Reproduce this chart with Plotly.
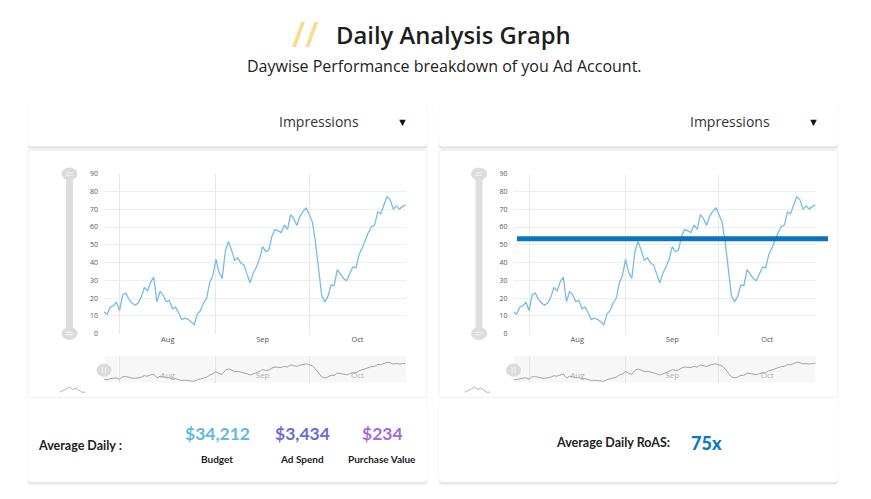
import pandas as pd
import plotly.graph_objects as go

W, H = 871, 499
OFF = 8  # the page body adds an 8px margin around the figure
FW, FH = W - OFF, H - OFF

# daily impressions (one value per day)
impressions = [
    12.3, 10.9, 14.9, 15.8, 17.7, 13.0, 21.9, 22.8, 19.5, 17.3,
    16.0, 17.3, 20.6, 26.1, 24.1, 29.0, 31.8, 18.0, 23.7, 21.9,
    18.0, 18.8, 14.0, 14.9, 11.8, 7.9, 8.7, 8.1, 6.8, 5.0,
    11.0, 13.0, 17.3, 19.9, 28.7, 32.8, 41.8, 34.4, 31.1, 46.4,
    51.7, 47.1, 41.2, 42.7, 39.8, 38.7, 33.5, 28.7, 34.2, 37.5,
    42.1, 49.0, 46.2, 47.1, 55.0, 58.7, 57.8, 56.9, 61.1, 58.7,
    67.0, 64.8, 60.9, 66.0, 68.8, 70.7, 67.0, 62.8, 51.4, 37.5,
    21.4, 17.9, 21.0, 27.4, 27.0, 36.1, 33.3, 31.1, 29.8, 33.3,
    37.5, 37.0, 44.4, 48.2, 52.6, 56.9, 60.2, 61.1, 68.5, 67.4,
    72.5, 77.1, 75.3, 70.1, 71.9, 70.1, 71.6, 72.5,
]
start_date = "2021-07-27"
dates = pd.date_range(start_date, periods=len(impressions), freq="D")

metric_name = "Impressions"
stat_labels = ["Budget", "Ad Spend", "Purchase Value"]
stat_values = ["$34,212", "$3,434", "$234"]
stat_colors = ["#65b7e3", "#6a6bd8", "#a66ad9"]
roas_value = "75x"
roas_level = 53.4

LINE = "#74bee6"


def fx(x):
    return (x - OFF) / FW


def fy(y):
    return 1 - (y - OFF) / FH


def rounded(x0, y0, x1, y1, r=4):
    def p(x, y):
        return f"{fx(x):.5f},{fy(y):.5f}"
    return ("M" + p(x0 + r, y0) + " L" + p(x1 - r, y0) + " Q" + p(x1, y0) + " " + p(x1, y0 + r)
            + " L" + p(x1, y1 - r) + " Q" + p(x1, y1) + " " + p(x1 - r, y1)
            + " L" + p(x0 + r, y1) + " Q" + p(x0, y1) + " " + p(x0, y1 - r)
            + " L" + p(x0, y0 + r) + " Q" + p(x0, y0) + " " + p(x0 + r, y0) + " Z")


def path_shape(path, fill, line=None):
    return dict(type="path", xref="paper", yref="paper", path=path, fillcolor=fill,
                line=dict(width=1 if line else 0, color=line or fill), layer="below")


def rect(x0, y0, x1, y1, fill, line=None):
    return dict(type="rect", xref="paper", yref="paper", x0=fx(x0), x1=fx(x1), y0=fy(y1), y1=fy(y0),
                fillcolor=fill, line=dict(width=1 if line else 0, color=line or fill), layer="below")


def oval(x0, y0, x1, y1, fill):
    return dict(type="circle", xref="paper", yref="paper", x0=fx(x0), x1=fx(x1), y0=fy(y1), y1=fy(y0),
                fillcolor=fill, line=dict(width=0), layer="below")


def seg(x0, y0, x1, y1, color, width=1):
    return dict(type="line", xref="paper", yref="paper", x0=fx(x0), x1=fx(x1), y0=fy(y0), y1=fy(y1),
                line=dict(color=color, width=width), layer="below")


def text(x, y, s, size, color="#222", family="Open Sans", weight=None, xanchor="center"):
    f = dict(size=size, color=color, family=family)
    if weight:
        f["weight"] = weight
    return dict(x=fx(x), y=fy(y), xref="paper", yref="paper", text=s, showarrow=False,
                xanchor=xanchor, yanchor="middle", font=f)


fig = go.Figure()
shapes = []
annotations = []

# scrollbar-ish strip on the right edge
shapes.append(rect(864, OFF, 871, 499, "#efefef"))

for dx in (0, 411):
    # dropdown card
    shapes.append(path_shape(rounded(27.5 + dx, 101.5, 427.5 + dx, 147.5), "#f3f3f3"))
    shapes.append(path_shape(rounded(28 + dx, 102, 427 + dx, 146), "#e3e3e3"))
    shapes.append(path_shape(rounded(28 + dx, 101, 427 + dx, 144), "white"))
    # chart card
    shapes.append(rect(28 + dx, 148, 427 + dx, 399.5, "white", "#efefef"))
    # stats card
    shapes.append(path_shape(rounded(27.5 + dx, 402, 427.5 + dx, 489), "#f2f2f2"))
    shapes.append(path_shape(rounded(28 + dx, 402, 427 + dx, 487.5), "#e1e1e1"))
    shapes.append(path_shape(rounded(28 + dx, 401, 427 + dx, 486), "white"))

    # vertical zoom slider
    sx = 69.5 + dx * 0.9964
    shapes.append(rect(sx - 3.5, 172, sx + 3.5, 334, "#dedede"))
    for cy in (172, 334.5):
        shapes.append(oval(sx - 8, cy - 6.5, sx + 8, cy + 6.5, "#dcdcdc"))
        shapes.append(seg(sx - 3.5, cy - 1.2, sx + 3.5, cy - 1.2, "#f2f2f2", 1))
        shapes.append(seg(sx - 3.5, cy + 1.2, sx + 3.5, cy + 1.2, "#f2f2f2", 1))

    # navigator background + handle
    nx = 104 + dx * 0.9964
    shapes.append(rect(nx + 1, 357.5, nx + 302, 384.5, "#f7f7f7"))
    shapes.append(oval(nx - 7.5, 365, nx + 7.5, 378.5, "#dcdcdc"))
    shapes.append(seg(nx - 1.5, 368.5, nx - 1.5, 375, "#f2f2f2", 1))
    shapes.append(seg(nx + 1.5, 368.5, nx + 1.5, 375, "#f2f2f2", 1))

    # small broken-icon squiggle under the slider
    ix = 60 + dx * 0.985
    pts = [(0, 5.3), (6.7, 1.7), (10, 0), (12.7, 2.7), (16, 1), (21.7, 5.3), (25, 5.3)]
    icon = "M" + " L".join(f"{fx(ix + a):.5f},{fy(389 + b):.5f}" for a, b in pts)
    shapes.append(dict(type="path", xref="paper", yref="paper", path=icon,
                       line=dict(color="#b5b5b5", width=1), layer="below"))

    # dropdown text
    annotations.append(text(319 + dx, 119, metric_name, 14, "#333"))
    annotations.append(text(402 + dx, 119, "▼", 11, "#111"))

# titles
annotations.append(text(305, 29.5, "//", 34, "#fcd98a", weight=600))
annotations.append(text(453.5, 30.5, "Daily Analysis Graph", 23.8, "#1e1e1e", weight=600))
annotations.append(text(444, 62, "Daywise Performance breakdown of you Ad Account.", 16, "#222"))

# left stats
annotations.append(text(35.5, 449, "Average Daily :", 12.5, "#222", "Lato", 700, xanchor="left"))
for cx, lab, val, col in zip([217, 302, 382], stat_labels, stat_values, stat_colors):
    annotations.append(text(cx, 436, val, 17.5, col, "Lato", 700))
    annotations.append(text(cx, 462, lab, 10, "#222", "Lato", 700))

# right stats
annotations.append(text(553.5, 446, "Average Daily RoAS:", 12.5, "#222", "Lato", 700, xanchor="left"))
annotations.append(text(689, 446, roas_value, 18, "#0b78c6", "Lato", 900, xanchor="left"))

# main charts + navigators
for xa, ya in [("x", "y"), ("x2", "y2")]:
    fig.add_trace(go.Scatter(x=dates, y=impressions, mode="lines", xaxis=xa, yaxis=ya,
                             line=dict(color=LINE, width=1.3), hoverinfo="x+y"))
for xa, ya in [("x3", "y3"), ("x4", "y4")]:
    fig.add_trace(go.Scatter(x=dates, y=impressions, mode="lines", xaxis=xa, yaxis=ya,
                             line=dict(color="#a3a3a3", width=1), hoverinfo="skip"))

# RoAS reference line on the right chart
shapes.append(dict(type="line", xref="paper", yref="y2", x0=fx(517), x1=fx(828),
                   y0=roas_level, y1=roas_level, line=dict(color="#0a74c0", width=5), layer="above"))

x_common = dict(type="date", range=[dates[0], dates[-1]], dtick="M1", tick0="2021-07-01",
                ticklabelmode="period", tickformat="%b", showgrid=True, ticks="",
                zeroline=False, showline=False, fixedrange=True)
main_x = dict(x_common, gridcolor="#e8e8e8", tickfont=dict(size=7.5, color="#555", family="Open Sans"))
nav_x = dict(x_common, gridcolor="#e6e6e6", ticklabelposition="inside",
             tickfont=dict(size=8, color="#b0b0b0", family="Open Sans"))
main_y = dict(range=[0, 90], dtick=10, showgrid=True, gridcolor="#eeeeee", ticks="",
              zeroline=False, showline=False, ticklabelstandoff=5, fixedrange=True,
              tickfont=dict(size=7, color="#555", family="Open Sans"))
nav_y = dict(range=[0, 100], showgrid=False, showticklabels=False, zeroline=False, fixedrange=True)

left_dom = [fx(104), fx(405.7)]
right_dom = [fx(513.5), fx(815.5)]
main_ydom = [fy(334.7), fy(171.7)]
nav_ydom = [fy(384.5), fy(357.5)]

fig.update_layout(
    width=FW, height=FH, margin=dict(l=0, r=0, t=0, b=0),
    paper_bgcolor="white", plot_bgcolor="rgba(0,0,0,0)", showlegend=False,
    font=dict(family="Open Sans", color="#222"),
    xaxis=dict(main_x, domain=left_dom, anchor="y"),
    yaxis=dict(main_y, domain=main_ydom, anchor="x"),
    xaxis2=dict(main_x, domain=right_dom, anchor="y2"),
    yaxis2=dict(main_y, domain=main_ydom, anchor="x2"),
    xaxis3=dict(nav_x, domain=left_dom, anchor="y3"),
    yaxis3=dict(nav_y, domain=nav_ydom, anchor="x3"),
    xaxis4=dict(nav_x, domain=right_dom, anchor="y4"),
    yaxis4=dict(nav_y, domain=nav_ydom, anchor="x4"),
    shapes=shapes, annotations=annotations,
)

fig.write_html("out.html")
